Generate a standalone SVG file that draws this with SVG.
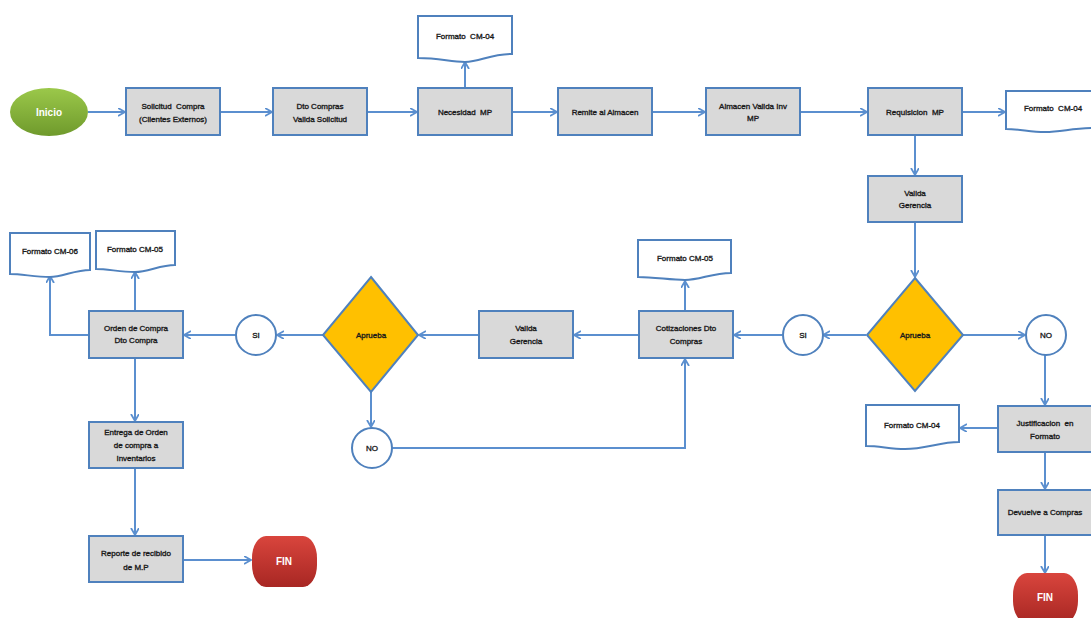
<svg xmlns="http://www.w3.org/2000/svg" width="1091" height="618" viewBox="0 0 1091 618">
<defs>
<style>
.box{fill:#d9d9d9;stroke:#4f81bd;stroke-width:2}
.doc{fill:#ffffff;stroke:#4f81bd;stroke-width:2}
.dia{fill:#ffc000;stroke:#4f81bd;stroke-width:2}
.circ{fill:#ffffff;stroke:#4f81bd;stroke-width:2}
.t{font-family:"Liberation Sans",Arial,sans-serif;font-size:8px;fill:#1a1a1a;text-anchor:middle;stroke:#1a1a1a;stroke-width:0.35}
.tw{font-family:"Liberation Sans",Arial,sans-serif;font-size:10px;font-weight:bold;fill:#ffffff;text-anchor:middle}
.c{fill:none;stroke:#5b8fcf;stroke-width:2}
</style>
<marker id="ah" markerUnits="userSpaceOnUse" markerWidth="10" markerHeight="10" refX="7" refY="4" orient="auto">
<path d="M0,0 L7,4 L0,8" fill="none" stroke="#5b8fcf" stroke-width="1.8"/>
</marker>
<linearGradient id="gGreen" x1="0" y1="0" x2="0" y2="1">
<stop offset="0" stop-color="#9bc84a"/><stop offset="1" stop-color="#6f9a2c"/>
</linearGradient>
<linearGradient id="gRed" x1="0" y1="0" x2="0" y2="1">
<stop offset="0" stop-color="#d9453d"/><stop offset="1" stop-color="#a82723"/>
</linearGradient>
</defs>

<g id="connectors">
<line class="c" x1="88" y1="112" x2="125" y2="112" marker-end="url(#ah)"/>
<line class="c" x1="220" y1="112" x2="272" y2="112" marker-end="url(#ah)"/>
<line class="c" x1="367" y1="112" x2="417" y2="112" marker-end="url(#ah)"/>
<line class="c" x1="465" y1="88" x2="465" y2="62" marker-end="url(#ah)"/>
<line class="c" x1="512" y1="112" x2="557" y2="112" marker-end="url(#ah)"/>
<line class="c" x1="652" y1="112" x2="705" y2="112" marker-end="url(#ah)"/>
<line class="c" x1="800" y1="112" x2="867" y2="112" marker-end="url(#ah)"/>
<line class="c" x1="962" y1="112" x2="1005" y2="112" marker-end="url(#ah)"/>
<line class="c" x1="915" y1="135" x2="915" y2="175" marker-end="url(#ah)"/>
<line class="c" x1="915" y1="222" x2="915" y2="277" marker-end="url(#ah)"/>
<line class="c" x1="866" y1="335" x2="823" y2="335" marker-end="url(#ah)"/>
<line class="c" x1="963" y1="335" x2="1025" y2="335" marker-end="url(#ah)"/>
<line class="c" x1="1045" y1="355" x2="1045" y2="405" marker-end="url(#ah)"/>
<line class="c" x1="998" y1="428" x2="960" y2="428" marker-end="url(#ah)"/>
<line class="c" x1="1045" y1="452" x2="1045" y2="489" marker-end="url(#ah)"/>
<line class="c" x1="1045" y1="535" x2="1045" y2="573" marker-end="url(#ah)"/>
<line class="c" x1="782" y1="335" x2="734" y2="335" marker-end="url(#ah)"/>
<line class="c" x1="685" y1="311" x2="685" y2="281" marker-end="url(#ah)"/>
<line class="c" x1="639" y1="335" x2="574" y2="335" marker-end="url(#ah)"/>
<line class="c" x1="479" y1="335" x2="419" y2="335" marker-end="url(#ah)"/>
<line class="c" x1="323" y1="335" x2="277" y2="335" marker-end="url(#ah)"/>
<line class="c" x1="371" y1="392" x2="371" y2="427" marker-end="url(#ah)"/>
<polyline class="c" points="392,448 685,448 685,359" marker-end="url(#ah)"/>
<line class="c" x1="236" y1="335" x2="184" y2="335" marker-end="url(#ah)"/>
<polyline class="c" points="89,335 50,335 50,276" marker-end="url(#ah)"/>
<line class="c" x1="135" y1="311" x2="135" y2="272" marker-end="url(#ah)"/>
<line class="c" x1="135" y1="358" x2="135" y2="421" marker-end="url(#ah)"/>
<line class="c" x1="135" y1="468" x2="135" y2="535" marker-end="url(#ah)"/>
<line class="c" x1="183" y1="560" x2="251" y2="560" marker-end="url(#ah)"/>
</g>

<g id="inicio">
<ellipse cx="49" cy="112" rx="39" ry="24" fill="url(#gGreen)"/>
<text class="tw" x="49" y="116">Inicio</text>
</g>

<g id="solicitud">
<rect class="box" x="126" y="88" width="94" height="47"/>
<text class="t" x="173" y="109" xml:space="preserve">Solicitud  Compra</text>
<text class="t" x="173" y="122">(Clientes Externos)</text>
</g>

<g id="dto-compras">
<rect class="box" x="273" y="88" width="94" height="47"/>
<text class="t" x="320" y="109">Dto Compras</text>
<text class="t" x="320" y="122">Valida Solicitud</text>
</g>

<g id="necesidad">
<rect class="box" x="418" y="88" width="94" height="47"/>
<text class="t" x="465" y="115" xml:space="preserve">Necesidad  MP</text>
</g>

<g id="formato-cm04-top">
<path class="doc" d="M418,16 H512 V54 C490,54 480,62 465,62 C450,62 440,58 418,58 Z"/>
<text class="t" x="465" y="39" xml:space="preserve">Formato  CM-04</text>
</g>

<g id="remite">
<rect class="box" x="558" y="88" width="94" height="47"/>
<text class="t" x="605" y="115">Remite al Almacen</text>
</g>

<g id="almacen">
<rect class="box" x="706" y="88" width="94" height="47"/>
<text class="t" x="753" y="109">Almacen Valida Inv</text>
<text class="t" x="753" y="121">MP</text>
</g>

<g id="requisicion">
<rect class="box" x="868" y="88" width="94" height="47"/>
<text class="t" x="915" y="115" xml:space="preserve">Requisicion  MP</text>
</g>

<g id="formato-cm04-right">
<path class="doc" d="M1006,91 H1094 V128 C1072,128 1062,132 1045,132 C1030,132 1020,129 1006,129 Z"/>
<text class="t" x="1053" y="111" xml:space="preserve">Formato  CM-04</text>
</g>

<g id="valida-gerencia-1">
<rect class="box" x="868" y="176" width="94" height="46"/>
<text class="t" x="915" y="196">Valida</text>
<text class="t" x="915" y="208">Gerencia</text>
</g>

<g id="aprueba-1">
<polygon class="dia" points="915,278 963,335 915,391 867,335"/>
<text class="t" x="915" y="338">Aprueba</text>
</g>

<g id="si-1">
<circle class="circ" cx="803" cy="335" r="20"/>
<text class="t" x="803" y="338">SI</text>
</g>

<g id="no-1">
<circle class="circ" cx="1046" cy="335" r="20"/>
<text class="t" x="1046" y="338">NO</text>
</g>

<g id="justificacion">
<rect class="box" x="998" y="406" width="95" height="46"/>
<text class="t" x="1045" y="426" xml:space="preserve">Justificacion  en</text>
<text class="t" x="1045" y="439">Formato</text>
</g>

<g id="formato-cm04-bottom">
<path class="doc" d="M866,405 H959 V442 C940,442 925,449 905,449 C890,449 880,446 866,446 Z"/>
<text class="t" x="912" y="428">Formato CM-04</text>
</g>

<g id="devuelve">
<rect class="box" x="998" y="490" width="95" height="45"/>
<text class="t" x="1045" y="515">Devuelve a Compras</text>
</g>

<g id="fin-right">
<rect x="1013" y="573" width="65" height="50" rx="14" ry="22" fill="url(#gRed)"/>
<text class="tw" x="1045" y="601">FIN</text>
</g>

<g id="cotizaciones">
<rect class="box" x="639" y="311" width="94" height="47"/>
<text class="t" x="686" y="331">Cotizaciones Dto</text>
<text class="t" x="686" y="344">Compras</text>
</g>

<g id="formato-cm05-mid">
<path class="doc" d="M638,240 H731 V273 C712,273 700,280 685,280 C670,280 655,277 638,277 Z"/>
<text class="t" x="685" y="261">Formato CM-05</text>
</g>

<g id="valida-gerencia-2">
<rect class="box" x="479" y="311" width="94" height="47"/>
<text class="t" x="526" y="331">Valida</text>
<text class="t" x="526" y="344">Gerencia</text>
</g>

<g id="aprueba-2">
<polygon class="dia" points="371,277 418,335 371,392 323,335"/>
<text class="t" x="371" y="338">Aprueba</text>
</g>

<g id="no-2">
<circle class="circ" cx="372" cy="448" r="20"/>
<text class="t" x="372" y="451">NO</text>
</g>

<g id="si-2">
<circle class="circ" cx="256" cy="335" r="20"/>
<text class="t" x="256" y="338">SI</text>
</g>

<g id="orden">
<rect class="box" x="89" y="311" width="94" height="47"/>
<text class="t" x="136" y="331">Orden de Compra</text>
<text class="t" x="136" y="343">Dto Compra</text>
</g>

<g id="formato-cm06">
<path class="doc" d="M10,233 H90 V270 C75,270 62,277 50,277 C35,277 22,274 10,274 Z"/>
<text class="t" x="50" y="254">Formato CM-06</text>
</g>

<g id="formato-cm05-left">
<path class="doc" d="M96,231 H175 V265 C160,265 148,272 135,272 C120,272 108,269 96,269 Z"/>
<text class="t" x="135" y="252">Formato CM-05</text>
</g>

<g id="entrega">
<rect class="box" x="89" y="422" width="94" height="46"/>
<text class="t" x="136" y="435">Entrega de Orden</text>
<text class="t" x="136" y="448">de compra a</text>
<text class="t" x="136" y="461">Inventarios</text>
</g>

<g id="reporte">
<rect class="box" x="89" y="536" width="94" height="46"/>
<text class="t" x="136" y="556">Reporte de recibido</text>
<text class="t" x="136" y="570">de M.P</text>
</g>

<g id="fin-left">
<rect x="252" y="536" width="65" height="51" rx="14" ry="22" fill="url(#gRed)"/>
<text class="tw" x="284" y="565">FIN</text>
</g>
</svg>
